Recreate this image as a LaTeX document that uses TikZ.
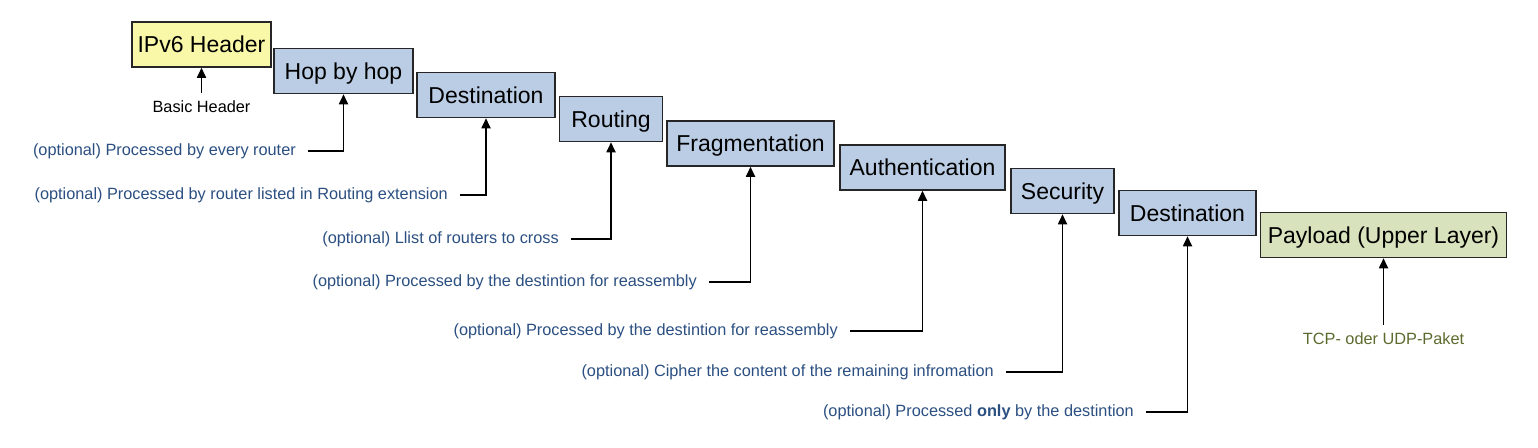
\documentclass[tikz,border=0pt]{standalone}
\usepackage{fontspec}
\setmainfont{Liberation Sans}
\usetikzlibrary{arrows.meta}

\definecolor{hdrfill}{HTML}{F8F8A8}
\definecolor{extfill}{HTML}{BACDE4}
\definecolor{payfill}{HTML}{D8E2BC}
\definecolor{notecol}{HTML}{2B4F81}
\definecolor{tcpcol}{HTML}{5B6B2E}
\tikzset{
  hbox/.style={draw=black!85,line width=1.5pt,inner sep=0pt,minimum height=45pt,
    text height=16.5pt,text depth=0pt,font=\fontsize{23}{26}\selectfont},
  note/.style={inner sep=0pt,text=notecol,font=\fontsize{16.3}{19}\selectfont},
  arr/.style={line width=1.7pt,-{Triangle[length=10pt,width=9pt]}},
}

\begin{document}
\begin{tikzpicture}[x=1pt,y=-1pt]
        \useasboundingbox (0,0) rectangle (1538,447);
        % 基本头与扩展头
        \node [hbox,fill=hdrfill,minimum width=139pt] (hdr) at (201.5,44.5) {IPv6 Header};
        \node [hbox,fill=extfill,minimum width=139pt] (hop) at (343.5,71) {Hop by hop};
        \node [hbox,fill=extfill,minimum width=138pt] (dst1) at (486,95) {Destination};
        \node [hbox,fill=extfill,minimum width=103pt] (rt) at (611,119) {Routing};
        \node [hbox,fill=extfill,minimum width=167pt] (frag) at (750.5,143.5) {Fragmentation};
        \node [hbox,fill=extfill,minimum width=165pt] (auth) at (922.5,167.5) {Authentication};
        \node [hbox,fill=extfill,minimum width=103pt] (sec) at (1062.5,191) {Security};
        \node [hbox,fill=extfill,minimum width=137pt] (dst2) at (1187.5,213) {Destination};
        \node [hbox,fill=payfill,minimum width=246pt] (pay) at (1383.5,235) {Payload (Upper Layer)};
        % 基本头说明
        \node [note,text=black] (bh) at (201.5,107) {Basic Header};
        \draw [arr] ([yshift=8pt]bh.north) -- (hdr.south);
        % 各扩展头说明
        \node [note,anchor=east] (n1) at (296,151) {(optional) Processed by every router};
        \draw [arr] ([xshift=12pt]n1.east) -| (hop.south);
        \node [note,anchor=east] (n2) at (448,195) {(optional) Processed by router listed in Routing extension};
        \draw [arr] ([xshift=12pt]n2.east) -| (dst1.south);
        \node [note,anchor=east] (n3) at (559,239) {(optional) Llist of routers to cross};
        \draw [arr] ([xshift=12pt]n3.east) -| (rt.south);
        \node [note,anchor=east] (n4) at (697,282) {(optional) Processed by the destintion for reassembly};
        \draw [arr] ([xshift=12pt]n4.east) -| (frag.south);
        \node [note,anchor=east] (n5) at (838,331) {(optional) Processed by the destintion for reassembly};
        \draw [arr] ([xshift=12pt]n5.east) -| (auth.south);
        \node [note,anchor=east] (n6) at (994,372) {(optional) Cipher the content of the remaining infromation};
        \draw [arr] ([xshift=12pt]n6.east) -| (sec.south);
        \node [note,anchor=east] (n7) at (1134,412) {(optional) Processed \textbf{only} by the destintion};
        \draw [arr] ([xshift=12pt]n7.east) -| (dst2.south);
        % 载荷说明
        \node [note,text=tcpcol] (tcp) at (1383.5,339) {TCP- oder UDP-Paket};
        \draw [arr] ([yshift=8pt]tcp.north) -- (pay.south);
\end{tikzpicture}
\end{document}
